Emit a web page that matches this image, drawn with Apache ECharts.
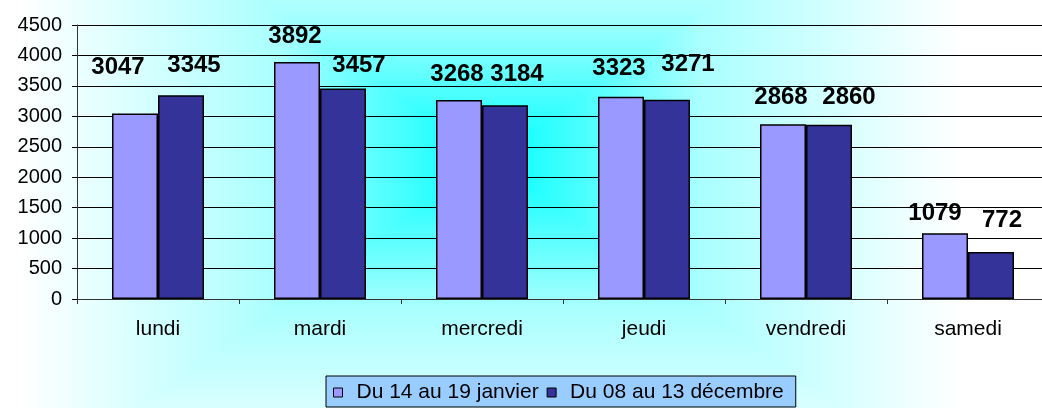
<!DOCTYPE html>
<html>
<head>
<meta charset="utf-8">
<script src="https://cdn.jsdelivr.net/npm/echarts@6/dist/echarts.min.js"></script>
<style>
  html, body { margin: 0; padding: 0; background: #fff; }
  #chart { width: 1042px; height: 408px; }
</style>
</head>
<body>
<div id="chart"></div>
<script>
const categories = ['lundi', 'mardi', 'mercredi', 'jeudi', 'vendredi', 'samedi'];
const seriesNames = ['Du 14 au 19 janvier', 'Du 08 au 13 décembre'];
const janvier = [3047, 3892, 3268, 3323, 2868, 1079];
const decembre = [3345, 3457, 3184, 3271, 2860, 772];
const yMin = 0, yMax = 4500, yStep = 500;

// label placement (pixel offsets from bar top), as in the reference
const offsetsJanvier = [[-17, -46], [-2, -26], [-2, -26], [-2, -28], [-2, -27], [-10, -20]];
const offsetsDecembre = [[13, -30], [16, -23], [12, -31], [21, -35], [20, -27], [11, -32]];

const FONT = '"Liberation Sans", Arial, sans-serif';

// Excel-like "from centre" rectangular gradient background
const gcx = 490, gcy = 160, ga = 470, gb = 330;
const stops = [
  { offset: 0, color: '#00ffff' },
  { offset: 0.45, color: '#aaffff' },
  { offset: 1, color: '#ffffff' }
];
function lin(x2, y2) {
  return { type: 'linear', x: gcx, y: gcy, x2: x2, y2: y2, global: true, colorStops: stops };
}
function tri(points, grad) {
  return {
    type: 'polygon', z: -10, silent: true,
    shape: { points: points },
    style: { fill: grad, stroke: grad, lineWidth: 1 }
  };
}
const TL = [gcx - ga, gcy - gb], TR = [gcx + ga, gcy - gb];
const BL = [gcx - ga, gcy + gb], BR = [gcx + ga, gcy + gb];
const C = [gcx, gcy];
const bgElements = [
  tri([TL, TR, C], lin(gcx, gcy - gb)),
  tri([BL, BR, C], lin(gcx, gcy + gb)),
  tri([TL, BL, C], lin(gcx - ga, gcy)),
  tri([TR, BR, C], lin(gcx + ga, gcy))
];

function buildData(values, offsets) {
  return values.map((v, i) => ({
    value: v,
    label: { offset: offsets[i] }
  }));
}

const labelStyle = {
  show: true,
  position: 'top',
  distance: 0,
  verticalAlign: 'middle',
  fontFamily: FONT,
  fontSize: 24,
  fontWeight: 'bold',
  color: '#000'
};

const chart = echarts.init(document.getElementById('chart'), null, { renderer: 'canvas' });
chart.setOption({
  backgroundColor: '#ffffff',
  animation: false,
  graphic: { elements: bgElements },
  grid: {
    left: 77, top: 25, right: -7, bottom: 109,
    containLabel: false,
    outerBoundsMode: 'none'
  },
  legend: {
    left: 326, top: 376,
    padding: [6, 12, 4, 7],
    itemGap: 8,
    itemWidth: 9, itemHeight: 9,
    icon: 'rect',
    backgroundColor: '#99ccff',
    borderColor: '#000',
    borderWidth: 1,
    borderRadius: 0,
    itemStyle: { borderColor: '#000', borderWidth: 1 },
    textStyle: { fontFamily: FONT, fontSize: 21, color: '#000', padding: [0, 0, 0, 9] },
    data: seriesNames
  },
  xAxis: {
    type: 'category',
    data: categories,
    axisLine: { show: true, lineStyle: { color: '#333', width: 1 } },
    axisTick: { show: true, length: 5, interval: 0, lineStyle: { color: '#333' } },
    axisLabel: { interval: 0, margin: 20, fontFamily: FONT, fontSize: 21, color: '#000' },
    splitLine: { show: false }
  },
  yAxis: {
    type: 'value',
    min: yMin, max: yMax, interval: yStep,
    axisLine: { show: true, lineStyle: { color: '#333', width: 1 } },
    axisTick: { show: true, length: 5, lineStyle: { color: '#000' } },
    axisLabel: {
      margin: 15, fontFamily: FONT, fontSize: 20, color: '#000',
      formatter: function (v) { return String(v); }
    },
    splitLine: { show: true, lineStyle: { color: '#000', width: 1, opacity: 1 } }
  },
  series: [
    {
      name: seriesNames[0],
      type: 'bar',
      barWidth: 46,
      barGap: '0%',
      data: buildData(janvier, offsetsJanvier),
      itemStyle: { color: '#9999ff', borderColor: '#000', borderWidth: 1.5 },
      label: labelStyle
    },
    {
      name: seriesNames[1],
      type: 'bar',
      barWidth: 46,
      barGap: '0%',
      data: buildData(decembre, offsetsDecembre),
      itemStyle: { color: '#333399', borderColor: '#000', borderWidth: 1.5 },
      label: labelStyle
    }
  ]
});
</script>
</body>
</html>
